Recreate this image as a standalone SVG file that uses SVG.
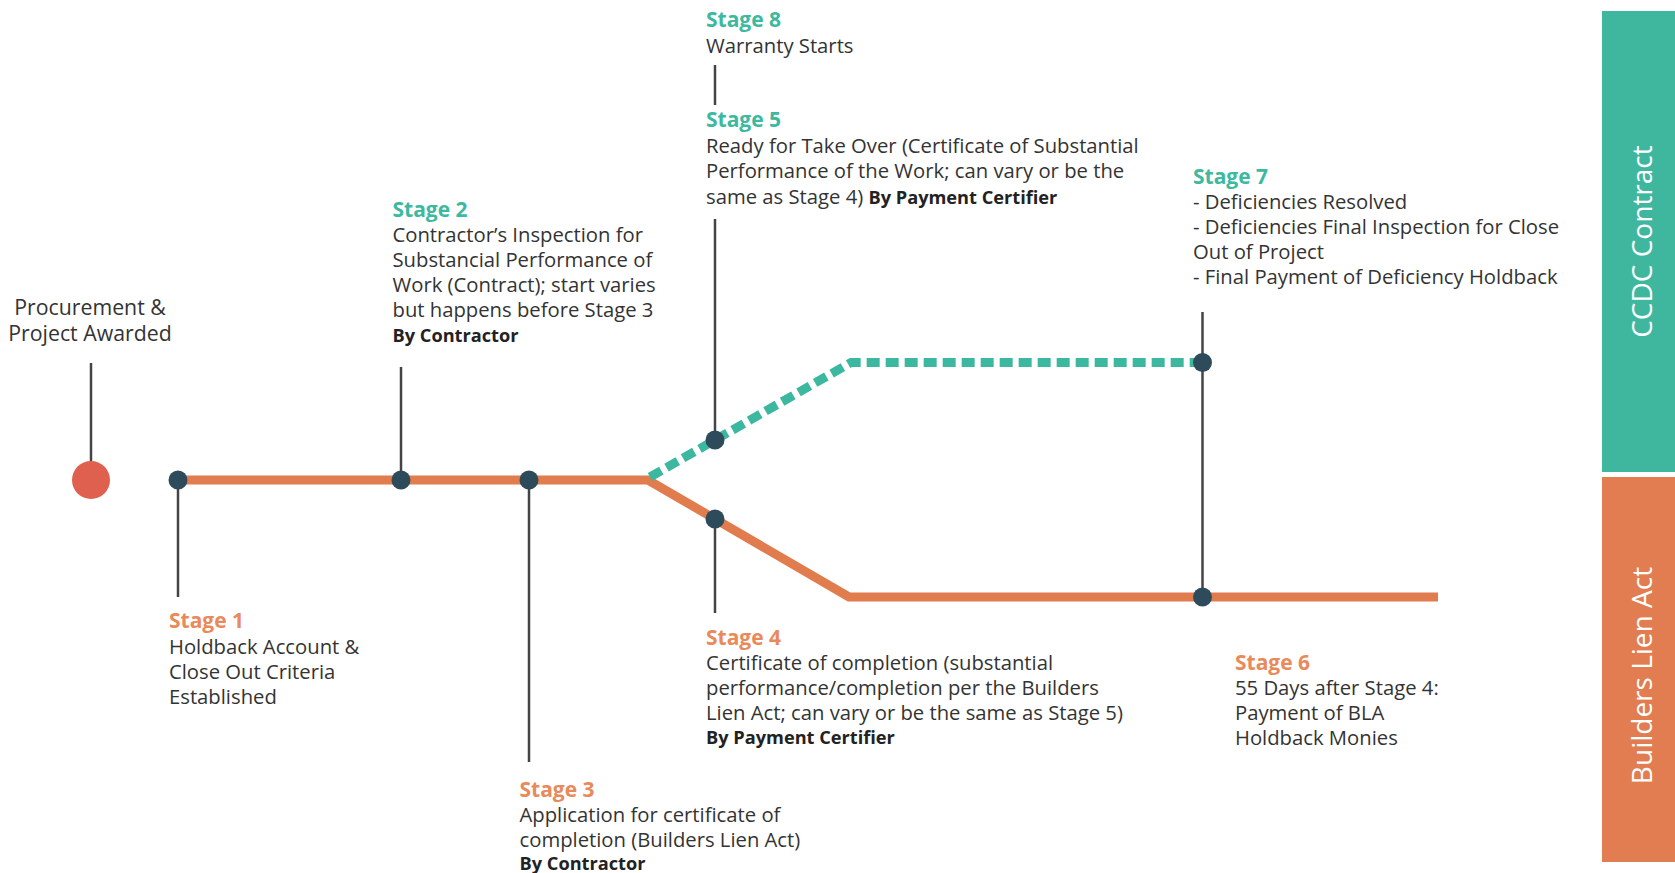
<svg xmlns="http://www.w3.org/2000/svg" width="1675" height="873" viewBox="0 0 1675 873">
<style>
text{font-family:"Open Sans","Liberation Sans",sans-serif;font-size:20.25px;fill:#333}
.hg{font-weight:700;fill:#3DB9A0;font-size:21px}
.ho{font-weight:700;fill:#E98A5B;font-size:21px}
.b{font-weight:700;fill:#222;font-size:18.2px}
.p{font-size:21.3px}
.lead{stroke:#444;stroke-width:2.5;fill:none}
.dot{fill:#2D4B5A}
.side{font-size:28px;fill:#fff}
</style>
<rect width="1675" height="873" fill="#fff"/>
<g id="connectors">
<path d="M178,480 L648,480 L849,597 L1438,597" fill="none" stroke="#E07C4E" stroke-width="9" stroke-linejoin="miter"/>
<path d="M650,477 L851,362.5 L1202,362.5" fill="none" stroke="#3DB8A0" stroke-width="9" stroke-dasharray="13 6"/>
</g>
<g id="procurement">
<line class="lead" x1="91" y1="363" x2="91" y2="470"/>
<circle cx="91" cy="480" r="19" fill="#E0604F"/>
<text class="p" x="90" y="315" text-anchor="middle">Procurement &amp;</text>
<text class="p" x="90" y="340.5" text-anchor="middle">Project Awarded</text>
</g>
<g id="stage1">
<line class="lead" x1="178" y1="480" x2="178" y2="597"/>
<circle class="dot" cx="178" cy="480" r="9.5"/>
<text class="ho" x="169" y="628">Stage 1</text>
<text x="169" y="653.5">Holdback Account &amp;</text>
<text x="169" y="679">Close Out Criteria</text>
<text x="169" y="704">Established</text>
</g>
<g id="stage2">
<line class="lead" x1="401" y1="367" x2="401" y2="480"/>
<circle class="dot" cx="401" cy="480" r="9.5"/>
<text class="hg" x="392.5" y="216.5">Stage 2</text>
<text x="392.5" y="242">Contractor’s Inspection for</text>
<text x="392.5" y="267">Substancial Performance of</text>
<text x="392.5" y="292">Work (Contract); start varies</text>
<text x="392.5" y="317">but happens before Stage 3</text>
<text class="b" x="392.5" y="341.5">By Contractor</text>
</g>
<g id="stage3">
<line class="lead" x1="529" y1="480" x2="529" y2="762"/>
<circle class="dot" cx="529" cy="480" r="9.5"/>
<text class="ho" x="519.5" y="797">Stage 3</text>
<text x="519.5" y="822">Application for certificate of</text>
<text x="519.5" y="847">completion (Builders Lien Act)</text>
<text class="b" x="519.5" y="870">By Contractor</text>
</g>
<g id="stage4">
<line class="lead" x1="715" y1="519" x2="715" y2="613"/>
<circle class="dot" cx="715" cy="519" r="9.5"/>
<text class="ho" x="706" y="644.5">Stage 4</text>
<text x="706" y="669.5">Certificate of completion (substantial</text>
<text x="706" y="695">performance/completion per the Builders</text>
<text x="706" y="720">Lien Act; can vary or be the same as Stage 5)</text>
<text class="b" x="706" y="744">By Payment Certifier</text>
</g>
<g id="stage5">
<line class="lead" x1="715" y1="219" x2="715" y2="440"/>
<circle class="dot" cx="715" cy="440" r="9.5"/>
<text class="hg" x="706" y="127">Stage 5</text>
<text x="706" y="152.5">Ready for Take Over (Certificate of Substantial</text>
<text x="706" y="178">Performance of the Work; can vary or be the</text>
<text x="706" y="203.5">same as Stage 4) <tspan class="b">By Payment Certifier</tspan></text>
</g>
<g id="stage8">
<line class="lead" x1="715" y1="65" x2="715" y2="105"/>
<text class="hg" x="706" y="26.5">Stage 8</text>
<text x="706" y="52.5">Warranty Starts</text>
</g>
<g id="stage7">
<line class="lead" x1="1202.5" y1="312" x2="1202.5" y2="597"/>
<circle class="dot" cx="1202.5" cy="362.5" r="9.5"/>
<text class="hg" x="1193" y="184">Stage 7</text>
<text x="1193" y="209">- Deficiencies Resolved</text>
<text x="1193" y="234">- Deficiencies Final Inspection for Close</text>
<text x="1193" y="259">Out of Project</text>
<text x="1193" y="284">- Final Payment of Deficiency Holdback</text>
</g>
<g id="stage6">
<circle class="dot" cx="1202.5" cy="597" r="9.5"/>
<text class="ho" x="1235" y="669.5">Stage 6</text>
<text x="1235" y="695">55 Days after Stage 4:</text>
<text x="1235" y="720">Payment of BLA</text>
<text x="1235" y="745">Holdback Monies</text>
</g>
<g id="ccdc-contract">
<rect x="1602" y="11" width="73" height="461" fill="#3FB79F"/>
<text class="side" transform="translate(1652,241.5) rotate(-90)" text-anchor="middle">CCDC Contract</text>
</g>
<g id="builders-lien-act">
<rect x="1602" y="477" width="73" height="385" fill="#E17D50"/>
<text class="side" transform="translate(1652,675.5) rotate(-90)" text-anchor="middle">Builders Lien Act</text>
</g>
</svg>
